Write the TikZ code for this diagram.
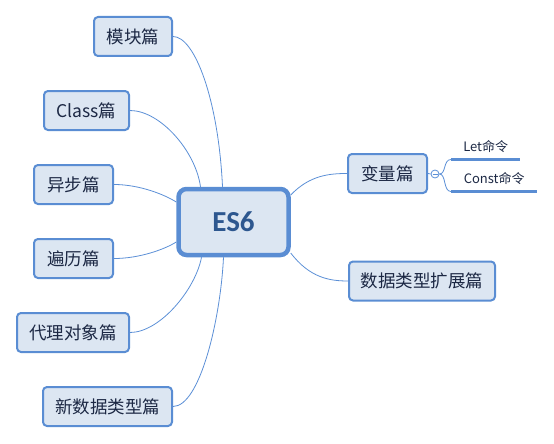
\documentclass[tikz,border=0pt]{standalone}
\usepackage{fontspec}
\setmainfont{Noto Sans CJK SC}
\newfontfamily\esfont{Carlito}
\definecolor{boxfill}{HTML}{DCE6F2}
\definecolor{boxline}{HTML}{5A8DD3}
\definecolor{txt}{HTML}{1C2844}
\definecolor{linkc}{HTML}{5B8FD6}
\definecolor{estext}{HTML}{2D578F}
\pgfdeclarelayer{bg}
\pgfsetlayers{bg,main}
\begin{document}
\begin{tikzpicture}[x=1pt,y=-1pt,
  topic/.style={draw=boxline, fill=boxfill, line width=2pt, rounded corners=4pt,
    text=txt, font=\fontsize{17.5}{19}\selectfont, inner sep=0pt, minimum height=39pt},
  root/.style={draw=boxline, fill=boxfill, line width=4.5pt, rounded corners=8pt,
    text=estext, font=\esfont\bfseries\fontsize{29}{31}\selectfont, inner sep=0pt},
  subtopic/.style={text=txt, font=\fontsize{13}{15}\selectfont, inner sep=0pt,
    minimum height=26pt, anchor=south west},
  underl/.style={draw=boxline, line width=3pt},
  linkline/.style={draw=linkc, line width=0.8pt}]
\useasboundingbox (0,0) rectangle (554,444);

\node[root, minimum width=110pt, minimum height=66pt] (es) at (233.5,222) {ES6};

\node[topic, minimum width=78pt] (mk) at (133,36.5) {模块篇};
\node[topic, minimum width=85pt] (cl) at (86.5,110.5) {Class篇};
\node[topic, minimum width=79pt] (yb) at (73.5,184.5) {异步篇};
\node[topic, minimum width=79pt] (bl) at (73.5,258.5) {遍历篇};
\node[topic, minimum width=112pt] (dl) at (73,332.5) {代理对象篇};
\node[topic, minimum width=129pt] (xs) at (107.5,406.5) {新数据类型篇};
\node[topic, minimum width=79pt] (bv) at (387.5,173.5) {变量篇};
\node[topic, minimum width=146pt] (kz) at (422,281) {数据类型扩展篇};

\node[circle, draw=linkc, fill=white, minimum size=8pt, inner sep=0pt, line width=0.8pt] (tog) at (435,174) {};
\draw[linkc, line width=0.8pt] ([xshift=-2.5pt]tog.center) -- ([xshift=2.5pt]tog.center);

\node[subtopic, minimum width=69pt] (let) at (451,159.5) {Let命令};
\node[subtopic, minimum width=86pt] (const) at (451,191.5) {Const命令};
\draw[underl] (let.south west) -- (let.south east);
\draw[underl] (const.south west) -- (const.south east);

\begin{pgfonlayer}{bg}
\draw[linkline] (mk.east) .. controls +(22,0) and +(-4,-86) .. ([xshift=-11pt]es.north);
\draw[linkline] (cl.east) .. controls +(30,0) and +(-5,-36) .. ([xshift=-33pt]es.north);
\draw[linkline] (yb.east) .. controls +(26,0) and +(-11,-7) .. ([yshift=20pt]es.west);
\draw[linkline] (bl.east) .. controls +(26,0) and +(-11,7) .. ([yshift=-20pt]es.west);
\draw[linkline] (dl.east) .. controls +(30,0) and +(-6,32) .. ([xshift=-32pt]es.south);
\draw[linkline] (xs.east) .. controls +(27,0) and +(-3,62) .. ([xshift=-10pt]es.south);
\draw[linkline] ([yshift=27pt]es.east) .. controls +(19,-20) and +(-17,0) .. (bv.west);
\draw[linkline] ([yshift=-31pt]es.east) .. controls +(19,25) and +(-18,0) .. (kz.west);
\draw[linkline] (bv.east) -- (tog.west);
\draw[linkline] (tog.east) .. controls +(7,0) and +(-8,0) .. (let.south west);
\draw[linkline] (tog.east) .. controls +(7,0) and +(-8,0) .. (const.south west);
\end{pgfonlayer}
\end{tikzpicture}
\end{document}
